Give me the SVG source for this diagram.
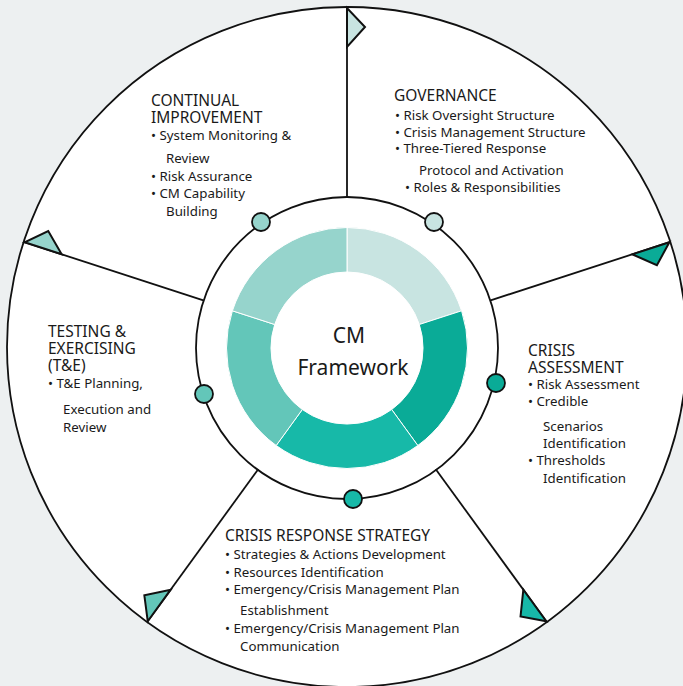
<svg xmlns="http://www.w3.org/2000/svg" width="683" height="686" viewBox="0 0 683 686">
<style>
.ln{stroke:#111;stroke-width:1.8;fill:none}
.flag{stroke:#111;stroke-width:2;stroke-linejoin:miter}
.dot{stroke:#111;stroke-width:1.8}
.seg{stroke:#fff;stroke-width:1}
text{font-family:"Noto Sans","Open Sans","Liberation Sans",sans-serif;fill:#1a1a1a}
.h{font-size:15.5px}
.b{font-size:13.3px}
.c{font-size:21px;text-anchor:middle}
</style>
<rect width="683" height="686" fill="#edf0f1"/>
<circle cx="347" cy="347" r="340" fill="#fff" stroke="#111" stroke-width="1.8"/>
<g id="connectors">
<circle cx="347" cy="348" r="151" class="ln"/>
<g id="spoke-governance"><line x1="347" y1="196" x2="347" y2="7" class="ln"/><polygon points="347,8 347,47 365,27" class="flag" fill="#c8e4e1"/></g>
<g id="spoke-assessment" transform="rotate(72 347 347)"><line x1="347" y1="196" x2="347" y2="7" class="ln"/><polygon points="347,8 347,47 365,27" class="flag" fill="#0aab97"/></g>
<g id="spoke-response" transform="rotate(144 347 347)"><line x1="347" y1="196" x2="347" y2="7" class="ln"/><polygon points="347,8 347,47 365,27" class="flag" fill="#17b9a8"/></g>
<g id="spoke-testing" transform="rotate(216 347 347)"><line x1="347" y1="196" x2="347" y2="7" class="ln"/><polygon points="347,8 347,47 365,27" class="flag" fill="#63c6b9"/></g>
<g id="spoke-improvement" transform="rotate(288 347 347)"><line x1="347" y1="196" x2="347" y2="7" class="ln"/><polygon points="347,8 347,47 365,27" class="flag" fill="#96d4cc"/></g>
</g>
<g id="donut">
<path class="seg" fill="#c8e4e1" d="M347,227.5 A120.5,120.5 0 0 1 461.6,310.8 L419.3,324.5 A76,76 0 0 0 347,272 Z"/>
<path class="seg" fill="#0aab97" d="M461.6,310.8 A120.5,120.5 0 0 1 417.8,445.5 L391.7,409.5 A76,76 0 0 0 419.3,324.5 Z"/>
<path class="seg" fill="#17b9a8" d="M417.8,445.5 A120.5,120.5 0 0 1 276.2,445.5 L302.3,409.5 A76,76 0 0 0 391.7,409.5 Z"/>
<path class="seg" fill="#63c6b9" d="M276.2,445.5 A120.5,120.5 0 0 1 232.4,310.8 L274.7,324.5 A76,76 0 0 0 302.3,409.5 Z"/>
<path class="seg" fill="#96d4cc" d="M232.4,310.8 A120.5,120.5 0 0 1 347,227.5 L347,272 A76,76 0 0 0 274.7,324.5 Z"/>
</g>
<g id="center">
<text class="c" x="349" y="343">CM</text>
<text class="c" x="353" y="375">Framework</text>
</g>
<g id="dots">
<circle class="dot" cx="434" cy="222" r="9" fill="#c8e4e1"/>
<circle class="dot" cx="496" cy="383" r="9" fill="#0aab97"/>
<circle class="dot" cx="353" cy="499" r="9" fill="#17b9a8"/>
<circle class="dot" cx="204" cy="394" r="9" fill="#63c6b9"/>
<circle class="dot" cx="261" cy="222" r="9" fill="#96d4cc"/>
</g>
<g id="governance">
<text class="h" x="394" y="101">GOVERNANCE</text>
<text class="b" x="395" y="120">• Risk Oversight Structure</text>
<text class="b" x="395" y="137">• Crisis Management Structure</text>
<text class="b" x="395" y="153">• Three-Tiered Response</text>
<text class="b" x="419" y="175">Protocol and Activation</text>
<text class="b" x="405" y="192">• Roles &amp; Responsibilities</text>
</g>
<g id="continual-improvement">
<text class="h" x="151" y="106">CONTINUAL</text>
<text class="h" x="151" y="123">IMPROVEMENT</text>
<text class="b" x="151" y="140">• System Monitoring &amp;</text>
<text class="b" x="166" y="163">Review</text>
<text class="b" x="151" y="181">• Risk Assurance</text>
<text class="b" x="151" y="198">• CM Capability</text>
<text class="b" x="166" y="216">Building</text>
</g>
<g id="testing-exercising">
<text class="h" x="48" y="337">TESTING &amp;</text>
<text class="h" x="48" y="354">EXERCISING</text>
<text class="h" x="48" y="371">(T&amp;E)</text>
<text class="b" x="48" y="388">• T&amp;E Planning,</text>
<text class="b" x="63" y="414">Execution and</text>
<text class="b" x="63" y="432">Review</text>
</g>
<g id="crisis-assessment">
<text class="h" x="528" y="356">CRISIS</text>
<text class="h" x="528" y="373">ASSESSMENT</text>
<text class="b" x="528" y="389">• Risk Assessment</text>
<text class="b" x="528" y="406">• Credible</text>
<text class="b" x="543" y="431">Scenarios</text>
<text class="b" x="543" y="448">Identification</text>
<text class="b" x="528" y="465">• Thresholds</text>
<text class="b" x="543" y="483">Identification</text>
</g>
<g id="crisis-response-strategy">
<text class="h" x="225" y="541">CRISIS RESPONSE STRATEGY</text>
<text class="b" x="225" y="559">• Strategies &amp; Actions Development</text>
<text class="b" x="225" y="577">• Resources Identification</text>
<text class="b" x="225" y="594">• Emergency/Crisis Management Plan</text>
<text class="b" x="240" y="615">Establishment</text>
<text class="b" x="225" y="633">• Emergency/Crisis Management Plan</text>
<text class="b" x="240" y="651">Communication</text>
</g>
</svg>
